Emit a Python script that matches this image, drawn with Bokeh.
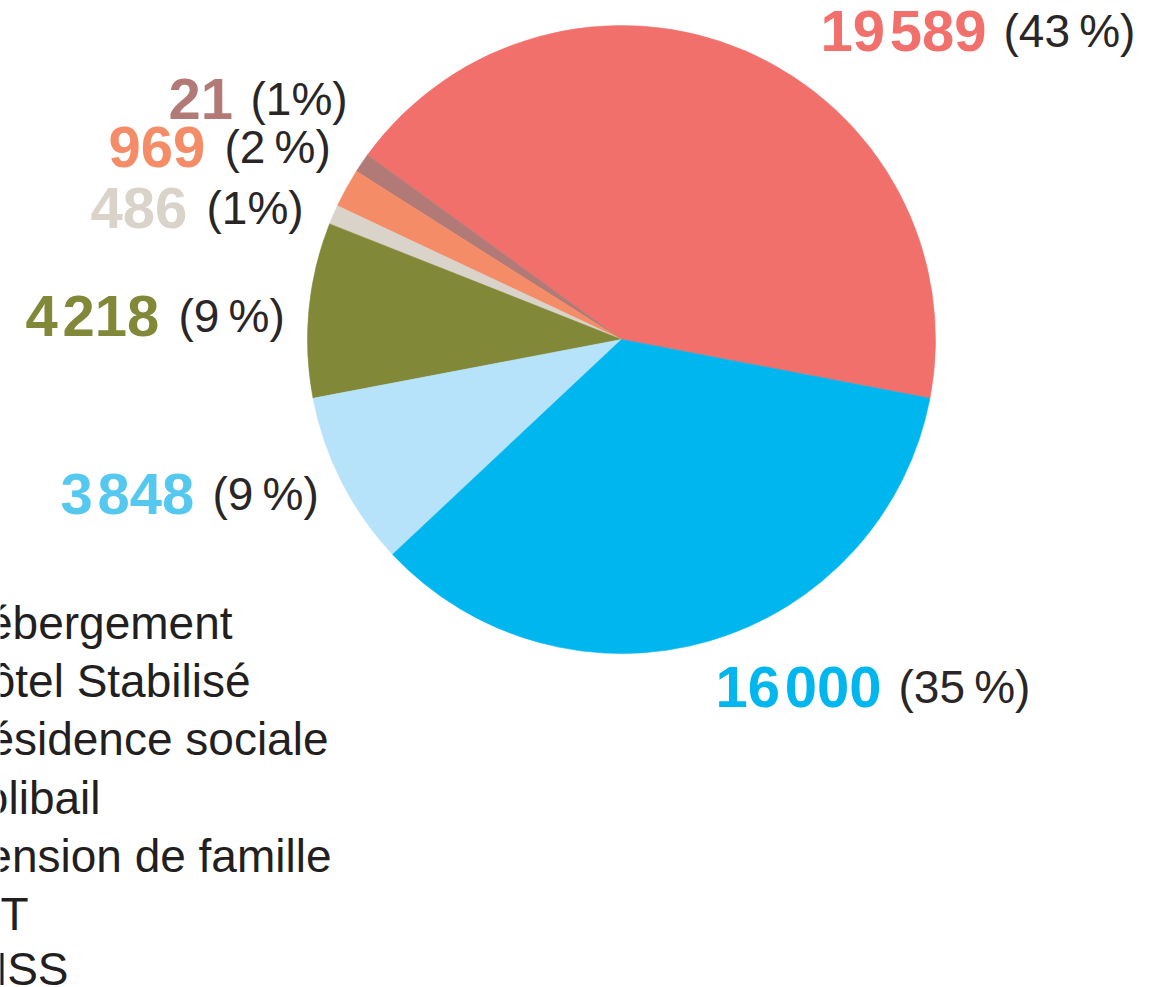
import math
from bokeh.plotting import figure
from bokeh.models import ColumnDataSource, Range1d
from bokeh.core.properties import value
from bokeh.embed import file_html
from bokeh.resources import INLINE

# ---------------- data ----------------
values = [19589, 21, 969, 486, 4218, 3848, 16000]
percents = [43, 1, 2, 1, 9, 9, 35]
pct_labels = ["(43\u2009%)", "(1%)", "(2\u2009%)", "(1%)", "(9\u2009%)", "(9\u2009%)", "(35\u2009%)"]
slice_colors = ["#F2706B", "#B27A76", "#F58C68", "#D9D3CA", "#818837", "#B6E3F9", "#00B6EF"]
label_colors = ["#F2706B", "#B27A76", "#F58C68", "#D9D3CA", "#818837", "#55C8F0", "#00B6EF"]
legend_fragments = ["ébergement", "ôtel Stabilisé", "ésidence sociale", "olibail",
                    "ension de famille", "T", "HSS"]

# ---------------- layout (reference pixel space, y downward) ----------------
W, H = 1152, 987
REF_H = 987
def Y(ry):
    return REF_H - ry

CX, CY, R = 621, 339, 314
START_DEG = -10.8

num_x = [820, 168, 108, 90, 25, 60, 715]
pct_x = [1003, 250, 224, 206, 178, 212, 898]
lab_base = [30, 98, 146, 207, 315, 493, 686]
leg_right = [232, 250, 328, 100, 331, 28, 68]
leg_base = [622, 680, 738, 797, 855, 913, 968]

p = figure(width=W, height=H, output_backend="svg", toolbar_location=None,
           x_range=Range1d(0, W), y_range=Range1d(REF_H - H, REF_H),
           min_border=0, outline_line_color=None)
p.axis.visible = False
p.grid.visible = False
p.background_fill_color = "white"
p.border_fill_color = "white"

# wedges
total = sum(percents)
starts, ends = [], []
acc = math.radians(START_DEG)
for v in percents:
    a = 2 * math.pi * v / total
    starts.append(acc)
    ends.append(acc + a)
    acc += a
wsrc = ColumnDataSource(dict(x=[CX] * len(percents), y=[Y(CY)] * len(percents),
                             start=starts, end=ends, color=slice_colors))
p.wedge(x="x", y="y", radius=R, start_angle="start", end_angle="end",
        fill_color="color", line_color="color", line_width=0.6, source=wsrc)

# value labels
num_text = [f"{v:,}".replace(",", "\u200a") for v in values]
nsrc = ColumnDataSource(dict(x=num_x, y=[Y(b) for b in lab_base], text=num_text, color=label_colors))
p.text(x="x", y="y", text="text", text_color="color", source=nsrc,
       text_font=value("Liberation Sans"), text_font_style="bold", text_font_size="58px",
       text_align="left", text_baseline="alphabetic")

psrc = ColumnDataSource(dict(x=pct_x, y=[Y(b) for b in lab_base], text=pct_labels))
p.text(x="x", y="y", text="text", text_color="#2A2627", source=psrc,
       text_font=value("Liberation Sans"), text_font_size="46px",
       text_align="left", text_baseline="alphabetic")

# cut-off legend texts
lsrc = ColumnDataSource(dict(x=leg_right, y=[Y(b) for b in leg_base], text=legend_fragments))
p.text(x="x", y="y", text="text", text_color="#231F20", source=lsrc,
       text_font=value("Liberation Sans"), text_font_size="46px",
       text_align="right", text_baseline="alphabetic")

open("out.html", "w").write(file_html(p, INLINE))
